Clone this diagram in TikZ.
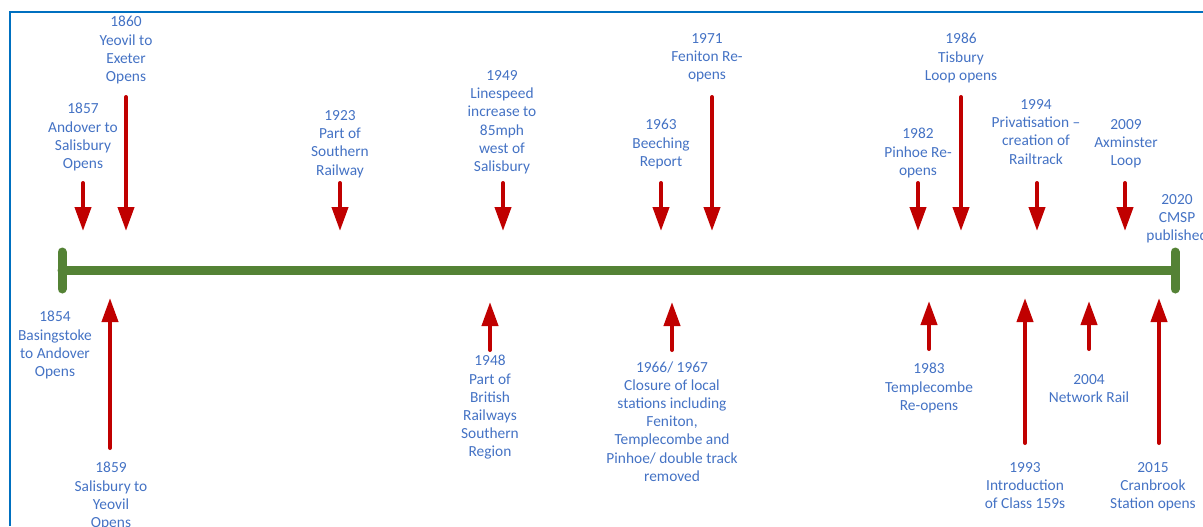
\documentclass[tikz,border=0pt]{standalone}
\usepackage{fontspec}
\setmainfont{Carlito}
\usepackage{xcolor}
\usetikzlibrary{arrows.meta}

\definecolor{labelblue}{HTML}{4472C4}
\definecolor{arrowred}{HTML}{C00000}
\definecolor{linegreen}{HTML}{548235}
\definecolor{frameblue}{HTML}{0070C0}

\begin{document}
\begin{tikzpicture}[x=0.5pt, y=-0.5pt,
                event/.style={align=center, text=labelblue, inner sep=0pt, anchor=north,
                              font=\fontsize{7.7}{9.1}\selectfont},
                red arrow/.style={-{Triangle[length=12pt,width=8pt]}, line width=2pt,
                                  line cap=round, arrowred},
                time line/.style={line width=4.5pt, line cap=round, linegreen}]

      \useasboundingbox (0,0) rectangle (1203,526);

      % frame
      \coordinate (F1) at (10,526);
      \coordinate (F2) at (10,12);
      \coordinate (F3) at (1203,12);
      \draw[frameblue, line width=1pt] (F1) -- (F2) -- (F3);

      % time line
      \coordinate (T0) at (62,270);
      \coordinate (T1) at (1175,270);
      \coordinate (T0a) at (62,252);
      \coordinate (T0b) at (62,289);
      \coordinate (T1a) at (1175,252);
      \coordinate (T1b) at (1175,289);
      \draw[time line] (T0) -- (T1);
      \draw[time line] (T0a) -- (T0b);
      \draw[time line] (T1a) -- (T1b);

      % events above the line
      \node[event] (L1857) at (83,103) {1857\\Andover to\\Salisbury\\Opens};
      \node[event] (L1860) at (126,16) {1860\\Yeovil to\\Exeter\\Opens};
      \node[event] (L1923) at (340,110) {1923\\Part of\\Southern\\Railway};
      \node[event] (L1949) at (502,70) {1949\\Linespeed\\increase to\\85mph\\west of\\Salisbury};
      \node[event] (L1963) at (661,119) {1963\\Beeching\\Report};
      \node[event] (L1971) at (707,33) {1971\\Feniton Re-\\opens};
      \node[event] (L1982) at (918,128) {1982\\Pinhoe Re-\\opens};
      \node[event] (L1986) at (961,33) {1986\\Tisbury\\Loop opens};
      \node[event] (L1994) at (1036,99) {1994\\Privatisation –\\creation of\\Railtrack};
      \node[event] (L2009) at (1126,119) {2009\\Axminster\\Loop};
      \node[event] (L2020) at (1177,194) {2020\\CMSP\\published};

      % events below the line
      \node[event] (L1854) at (55,311) {1854\\Basingstoke\\to Andover\\Opens};
      \node[event] (L1859) at (111,462) {1859\\Salisbury to\\Yeovil\\Opens};
      \node[event] (L1948) at (490,355) {1948\\Part of\\British\\Railways\\Southern\\Region};
      \node[event] (L1966) at (672,361) {1966/ 1967\\Closure of local\\stations including\\Feniton,\\Templecombe and\\Pinhoe/ double track\\removed};
      \node[event] (L1983) at (929,363) {1983\\Templecombe\\Re-opens};
      \node[event] (L1993) at (1025,462) {1993\\Introduction\\of Class 159s};
      \node[event] (L2004) at (1089,374) {2004\\Network Rail};
      \node[event] (L2015) at (1153,462) {2015\\Cranbrook\\Station opens};

      % arrows down
      \coordinate (s1857) at (83,183);   \coordinate (e1857) at (83,231);
      \coordinate (s1860) at (126,97);   \coordinate (e1860) at (126,231);
      \coordinate (s1923) at (340,183);  \coordinate (e1923) at (340,231);
      \coordinate (s1949) at (503,183);  \coordinate (e1949) at (503,231);
      \coordinate (s1963) at (661,183);  \coordinate (e1963) at (661,231);
      \coordinate (s1971) at (712,97);   \coordinate (e1971) at (712,231);
      \coordinate (s1982) at (918,183);  \coordinate (e1982) at (918,231);
      \coordinate (s1986) at (961,97);   \coordinate (e1986) at (961,231);
      \coordinate (s1994) at (1037,183); \coordinate (e1994) at (1037,231);
      \coordinate (s2009) at (1125,183); \coordinate (e2009) at (1125,231);
      \draw[red arrow] (s1857) -- (e1857);
      \draw[red arrow] (s1860) -- (e1860);
      \draw[red arrow] (s1923) -- (e1923);
      \draw[red arrow] (s1949) -- (e1949);
      \draw[red arrow] (s1963) -- (e1963);
      \draw[red arrow] (s1971) -- (e1971);
      \draw[red arrow] (s1982) -- (e1982);
      \draw[red arrow] (s1986) -- (e1986);
      \draw[red arrow] (s1994) -- (e1994);
      \draw[red arrow] (s2009) -- (e2009);

      % arrows up
      \coordinate (s1859) at (110,448);  \coordinate (e1859) at (110,298);
      \coordinate (s1948) at (490,350);  \coordinate (e1948) at (490,302);
      \coordinate (s1966) at (672,350);  \coordinate (e1966) at (672,302);
      \coordinate (s1983) at (929,349);  \coordinate (e1983) at (929,301);
      \coordinate (s1993) at (1025,443); \coordinate (e1993) at (1025,298);
      \coordinate (s2004) at (1089,349); \coordinate (e2004) at (1089,301);
      \coordinate (s2015) at (1159,443); \coordinate (e2015) at (1159,298);
      \draw[red arrow] (s1859) -- (e1859);
      \draw[red arrow] (s1948) -- (e1948);
      \draw[red arrow] (s1966) -- (e1966);
      \draw[red arrow] (s1983) -- (e1983);
      \draw[red arrow] (s1993) -- (e1993);
      \draw[red arrow] (s2004) -- (e2004);
      \draw[red arrow] (s2015) -- (e2015);
  \end{tikzpicture}
\end{document}
